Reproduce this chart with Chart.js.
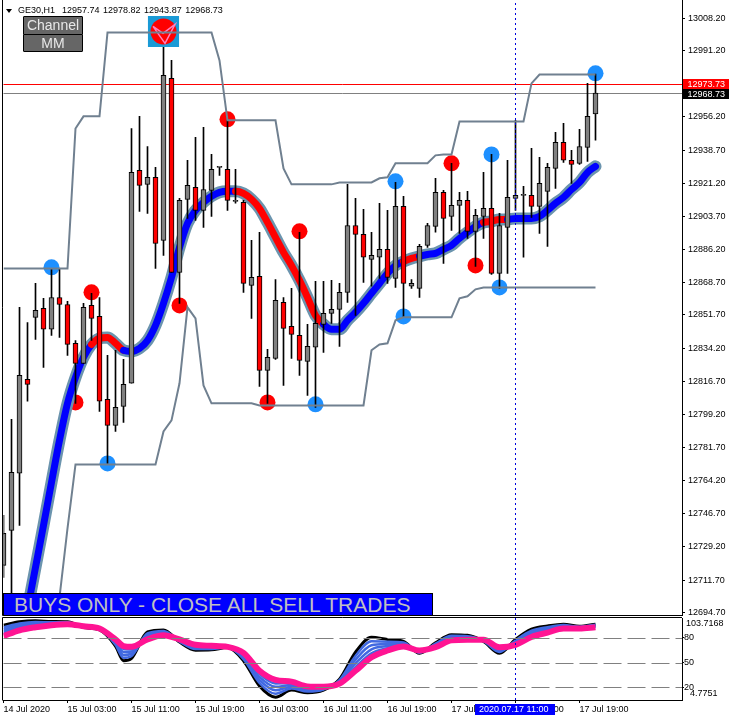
<!DOCTYPE html>
<html>
<head>
<meta charset="utf-8">
<title>GE30,H1</title>
<script src="https://cdn.jsdelivr.net/npm/chart.js@4/dist/chart.umd.js"></script>
<style>
  html, body { margin: 0; padding: 0; background: #fff; overflow: hidden; }
  body { width: 732px; height: 721px; position: relative; font-family: "Liberation Sans", sans-serif; }
  canvas { position: absolute; left: 0; }
  #main { top: 0; }
  #osc { top: 616px; }
  .box { position: absolute; box-sizing: border-box; }
  #arrow { left: 6px; top: 9px; width: 0; height: 0; border-left: 3.5px solid transparent; border-right: 3.5px solid transparent; border-top: 4px solid #000; }
  #title { left: 18px; top: 5px; font-size: 9px; line-height: 11px; white-space: pre; word-spacing: 1px; color: #000; }
  .btn { left: 23px; width: 60px; height: 18.5px; background: #666; border: 1px solid #000; color: #e8e8e8; font-size: 14px; line-height: 16px; text-align: center; border-radius: 1px; }
  #banner { left: 3px; top: 593px; width: 430px; height: 23px; background: #0000ff; border: 1px solid #000; color: #c0c0c0; font-size: 21px; line-height: 22px; padding-left: 10px; white-space: pre; }
</style>
</head>
<body>
<canvas id="main" width="732" height="616"></canvas>
<canvas id="osc" width="732" height="105"></canvas>
<div class="box" id="arrow"></div>
<div class="box" id="title">GE30,H1  12957.74 12978.82 12943.87 12968.73</div>
<div class="box btn" style="top:16px">Channel</div>
<div class="box btn" style="top:33.5px">MM</div>
<div class="box" id="banner">BUYS ONLY - CLOSE ALL SELL TRADES</div>

<script>
// candles, hourly, 14 Jul 19:00 onwards
const opens = [12719.5,12738.0,12768.1,12817.7,12850.4,12855.1,12844.1,12860.9,12857.2,12836.7,12826.1,12856.7,12850.9,12807.1,12793.4,12803.4,12815.6,12928.0,12920.6,12924.3,12891.0,12976.5,12874.1,12912.7,12919.0,12906.9,12917.4,12929.6,12928.5,12911.6,12911.1,12867.3,12872.0,12822.4,12828.7,12858.3,12845.6,12840.9,12827.2,12834.6,12846.7,12852.5,12854.6,12863.6,12898.9,12894.2,12881.0,12882.1,12886.3,12871.0,12909.0,12866.8,12865.7,12888.4,12898.4,12916.4,12903.7,12909.5,12912.1,12895.8,12903.7,12907.9,12873.6,12897.9,12913.2,12914.8,12914.8,12909.0,12916.9,12929.0,12942.8,12933.3,12931.7,12940.1,12957.74]
const highs = [12745.9,12796.6,12855.7,12847.7,12868.3,12860.4,12876.2,12876.2,12858.8,12838.2,12857.8,12863.1,12860.9,12830.3,12833.0,12828.2,12950.1,12956.5,12940.6,12929.6,13001.9,12986.0,12913.2,12933.3,12945.4,12950.7,12936.4,12929.6,12954.4,12928.5,12912.1,12891.0,12895.3,12833.5,12870.4,12860.9,12865.7,12895.3,12846.7,12869.4,12869.4,12869.9,12868.3,12920.6,12913.2,12907.4,12895.3,12910.6,12906.9,12921.6,12914.3,12870.4,12888.9,12900.0,12923.8,12917.4,12931.7,12916.4,12916.9,12907.4,12926.9,12936.4,12905.3,12933.3,12954.4,12919.5,12939.6,12934.8,12931.7,12948.0,12952.8,12938.5,12949.6,12973.9,12978.82]
const lows = [12713.2,12701.0,12740.6,12806.1,12838.8,12824.0,12840.9,12839.8,12830.3,12805.0,12826.1,12838.2,12800.8,12773.3,12790.2,12795.0,12815.6,12906.3,12905.3,12876.2,12883.1,12874.1,12857.8,12902.6,12901.6,12897.9,12903.7,12925.3,12906.9,12910.6,12863.6,12849.9,12814.0,12805.0,12828.2,12814.5,12828.7,12819.8,12809.2,12802.9,12831.9,12847.2,12835.1,12858.3,12851.4,12868.9,12866.8,12871.0,12868.3,12866.2,12850.4,12865.7,12860.9,12887.3,12895.3,12878.9,12896.3,12894.7,12892.1,12877.3,12892.1,12873.1,12865.7,12873.6,12906.9,12882.1,12903.2,12894.7,12887.9,12918.5,12932.2,12921.1,12931.1,12932.7,12943.87]
const closes = [12736.4,12768.6,12819.8,12815.0,12854.1,12844.1,12860.9,12857.2,12836.1,12826.1,12855.7,12849.9,12806.1,12793.4,12802.9,12815.0,12926.9,12920.1,12924.3,12889.4,12978.1,12874.1,12912.1,12920.1,12906.9,12917.9,12928.5,12929.6,12912.1,12911.6,12868.3,12871.5,12822.4,12829.3,12859.4,12844.6,12841.4,12827.7,12835.1,12847.2,12852.5,12854.6,12863.6,12898.9,12894.2,12882.1,12883.1,12886.3,12871.5,12909.0,12868.3,12868.3,12887.9,12898.9,12916.4,12902.6,12909.5,12912.1,12895.8,12904.2,12907.9,12873.6,12898.9,12913.7,12914.8,12914.8,12909.0,12921.1,12929.6,12942.8,12933.3,12931.1,12940.6,12956.5,12968.73]

// thick moving average
const maLine = [null,null,null,12696.3,12718.4,12740.6,12763.3,12785.5,12805.0,12818.7,12829.3,12836.1,12839.3,12839.8,12836.7,12833.0,12832.4,12834.0,12838.2,12846.2,12857.8,12871.5,12887.3,12900.0,12906.9,12911.1,12914.3,12916.4,12916.9,12916.9,12915.8,12912.7,12907.9,12900.5,12892.6,12884.7,12877.8,12869.9,12860.9,12851.4,12846.7,12844.1,12844.1,12848.8,12853.0,12857.8,12863.1,12868.3,12873.6,12877.8,12879.9,12881.5,12882.6,12883.6,12884.2,12886.3,12888.4,12892.1,12895.3,12898.4,12900.5,12901.1,12902.1,12902.1,12902.6,12902.6,12902.6,12903.7,12906.9,12910.6,12913.7,12917.9,12921.6,12926.9,12930.1]
const maRedRanges = [[11,15],[29,40],[50,52],[60,63]]

// channel lines
const channelUpper = [12876.2,12876.2,12876.2,12876.2,12876.2,12876.2,12876.2,12876.2,12876.2,12950.1,12956.5,12956.5,12956.5,13000.8,13000.8,13000.8,13000.8,13000.8,13000.8,13000.8,13000.8,13000.8,13000.8,13000.8,13000.8,13000.8,13000.8,12986.0,12954.4,12954.4,12954.4,12954.4,12954.4,12954.4,12954.4,12929.0,12920.6,12920.6,12920.6,12920.6,12920.6,12920.6,12921.6,12921.6,12921.6,12921.6,12921.6,12923.8,12924.3,12931.7,12931.7,12931.7,12931.7,12931.7,12935.9,12936.4,12936.4,12953.8,12953.8,12953.8,12953.8,12953.8,12953.8,12953.8,12953.8,12953.8,12973.9,12978.6,12978.6,12978.6,12978.6,12978.6,12978.6,12978.6,12978.6]
const channelLower = [null,null,null,null,null,null,null,12702.6,12739.0,12772.8,12772.8,12772.8,12772.8,12772.8,12772.8,12772.8,12772.8,12772.8,12772.8,12772.8,12790.2,12796.0,12815.6,12855.7,12849.9,12814.5,12805.0,12805.0,12805.0,12805.0,12805.0,12805.0,12803.9,12803.9,12803.9,12803.9,12803.9,12803.9,12803.9,12803.9,12803.9,12803.9,12803.9,12803.9,12803.9,12803.9,12833.0,12836.1,12836.7,12848.8,12850.4,12850.4,12850.4,12850.4,12850.4,12850.4,12850.4,12860.4,12861.5,12865.2,12866.2,12866.2,12866.2,12866.2,12866.2,12866.2,12866.2,12866.2,12866.2,12866.2,12866.2,12866.2,12866.2,12866.2,12866.2]

// signal dots
const redDotIdx = [9,11,22,28,33,37,56,59]
const redDotVal = [12805.5,12863.6,12856.7,12954.9,12805.5,12895.8,12931.7,12877.8]
const blueDotIdx = [6,13,39,49,50,61,62,74]
const blueDotVal = [12876.8,12773.3,12804.5,12922.2,12850.9,12936.4,12866.2,12979.2]

// logo on the high of the spike
const iconIdx = [20]
const iconVal = [13001.3]
const iconStarIdx = [18.69,20.19,21.44,19.94,18.69]
const iconStarVal = [13004.0,12995.0,13005.0,13000.3,13004.0]

// price axis
const priceTicks = [13008.2,12991.2,12973.7,12956.2,12938.7,12921.2,12903.7,12886.2,12868.7,12851.7,12834.2,12816.7,12799.2,12781.7,12764.2,12746.7,12729.2,12711.7,12694.7]
const priceMin = 12693.3
const priceMax = 13017.9
const askPrice = 12973.73
const bidPrice = 12968.73
const crossIdx = 64

// time axis
const timeTicks = [0,8,16,24,32,40,48,56,64,72]
const timeLabels = ['14 Jul 2020','15 Jul 03:00','15 Jul 11:00','15 Jul 19:00','16 Jul 03:00','16 Jul 11:00','16 Jul 19:00','17 Jul 03:00','17 Jul 11:00','17 Jul 19:00']
const crossLabel = '2020.07.17 11:00'
const slotMax = 84.8125

// oscillator ribbon
const oscIdx = [0,2,4,6,8,10,12,14,15,16,18,20,22,24,26,28,30,32,34,36,38,40,42,44,46,48,50,52,54,56,58,60,62,64,66,68,70,72,74]
const oscBlack = [95.1,99.1,100.4,99.5,99.1,92.2,89.3,69.8,52.2,55.1,86.9,89.3,74.7,64.9,65.3,68.1,52.2,21.6,8.2,16.7,13.5,16.7,29.8,62.4,80.4,77.9,75.5,61.2,73.8,83.6,82.8,75.5,61.2,77.9,90.2,94.2,96.3,93.8,96.3]
const oscBlueA = [92.4,97,98.8,98.6,98.5,92.5,89.6,71.4,55.7,57.9,85.1,88,75.3,66.2,66.3,68.3,54.1,25.3,12.4,18.7,15,17.5,28.7,57.9,75.6,75.2,74.3,61.9,72.7,82.2,81.7,75.9,62.7,76.6,88.3,92.6,95.2,93.2,95.6]
const oscBlueB = [89.8,95,97.3,97.7,98,92.8,90,73,59.2,60.6,83.3,86.7,76,67.5,67.3,68.4,56,29,16.5,20.8,16.6,18.3,27.7,53.4,70.8,72.5,73.1,62.5,71.7,80.8,80.7,76.3,64.1,75.3,86.4,91,94.2,92.7,94.8]
const oscBlueC = [87.2,93,95.7,96.9,97.4,93.2,90.3,74.7,62.8,63.4,81.5,85.4,76.6,68.8,68.2,68.6,57.8,32.6,20.7,22.8,18.1,19.2,26.6,49,65.9,69.9,71.8,63.2,70.6,79.5,79.6,76.7,65.6,74,84.6,89.3,93.1,92.1,94.1]
const oscBlueD = [84.6,91,94.2,96,96.9,93.5,90.7,76.3,66.3,66.1,79.7,84.1,77.3,70.1,69.2,68.7,59.7,36.3,24.8,24.9,19.7,20,25.6,44.5,61.1,67.2,70.6,63.8,69.6,78.1,78.6,77.1,67,72.7,82.7,87.7,92.1,91.6,93.3]
const oscPink = [82,88.9,92.6,95.1,96.3,93.8,91,77.9,69.8,68.9,77.9,82.8,77.9,71.4,70.2,68.9,61.6,40,29,26.9,21.2,20.8,24.5,40,56.3,64.5,69.4,64.5,68.5,76.7,77.5,77.5,68.5,71.4,80.8,86.1,91,91,92.6]
const oscLevels = [80,50,20]
const oscMin = 4.7751
const oscMax = 103.7168

const axisFont = { family: '"Liberation Sans", sans-serif', size: 9 }

const pts = (idx, vals) => idx.map((x, i) => ({ x: x, y: vals[i] }))
const candleIdx = opens.map((_, i) => i)
const isDown = i => closes[i] < opens[i]

const lineSet = (data, color, width, order, extra) => Object.assign({
    type: 'line', data: data, borderColor: color, borderWidth: width, order: order,
    pointRadius: 0, fill: false, tension: 0
}, extra || {})

const dotSet = (data, color, radius, order, style) => ({
    type: 'line', data: data, showLine: false, order: order,
    pointRadius: radius, pointStyle: style || 'circle',
    pointBackgroundColor: color, pointBorderWidth: 0
})

const inRedRange = i => maRedRanges.some(r => i >= r[0] && i < r[1])

// axes must not push the plot area around, first/last tick labels add margins otherwise
const fixAxis = (axis, size) => {
    if (axis.isHorizontal()) axis.height = size
    else axis.width = size
    axis.paddingLeft = axis.paddingRight = axis.paddingTop = axis.paddingBottom = 0
}

// horizontal level snapped to a whole pixel row so it stays crisp
const levelLine = (ctx, chart, value, color, dash) => {
    const { chartArea, scales } = chart
    const y = Math.round(scales.y.getPixelForValue(value)) + 0.5
    ctx.save()
    ctx.strokeStyle = color
    ctx.lineWidth = 1
    ctx.setLineDash(dash || [])
    ctx.beginPath()
    ctx.moveTo(chartArea.left, y)
    ctx.lineTo(chartArea.right, y)
    ctx.stroke()
    ctx.restore()
}

// price lines, frame + price tags for main chart
const mainExtras = {
    id: 'mainExtras',
    beforeDatasetsDraw(chart) {
        levelLine(chart.ctx, chart, askPrice, '#ff0000')
        levelLine(chart.ctx, chart, bidPrice, '#808080')
    },
    afterDraw(chart) {
        const { ctx, chartArea, scales } = chart
        ctx.save()
        ctx.strokeStyle = '#000'
        ctx.lineWidth = 1
        ctx.beginPath()
        ctx.moveTo(2.5, 0)
        ctx.lineTo(2.5, 615.5)
        ctx.lineTo(chartArea.right, 615.5)
        ctx.stroke()

        const tag = (value, bg, top) => {
            ctx.fillStyle = bg
            ctx.fillRect(683, top, 46, 10)
            ctx.fillStyle = '#fff'
            ctx.font = '9px "Liberation Sans", sans-serif'
            ctx.textBaseline = 'middle'
            ctx.fillText(value.toFixed(2), 687.5, top + 5.5)
        }
        tag(askPrice, '#ff0000', Math.round(scales.y.getPixelForValue(askPrice)) - 5)
        tag(bidPrice, '#000000', Math.round(scales.y.getPixelForValue(bidPrice)) - 4)
        ctx.restore()
    }
}

const mainChart = new Chart(document.getElementById('main').getContext('2d'), {
    data: {
        datasets: [
            dotSet(pts(redDotIdx, redDotVal), '#ff0000', 8, 60),
            dotSet(pts(blueDotIdx, blueDotVal), '#1e90ff', 8, 60),
            lineSet(pts(candleIdx, maLine), '#6b94ae', 12, 50, { borderCapStyle: 'round', borderJoinStyle: 'round', cubicInterpolationMode: 'monotone' }),
            lineSet(pts(candleIdx, maLine), '#0000ff', 7, 40, {
                borderCapStyle: 'round', borderJoinStyle: 'round', cubicInterpolationMode: 'monotone',
                segment: { borderColor: c => inRedRange(c.p0DataIndex) ? '#ff0000' : '#0000ff' }
            }),
            {
                type: 'bar', order: 30, grouped: false, barThickness: 1,
                data: candleIdx.map(i => ({ x: i, y: [lows[i], highs[i]] })),
                backgroundColor: '#000', borderWidth: 0
            },
            {
                type: 'bar', order: 20, grouped: false, barThickness: 5, minBarLength: 1,
                data: candleIdx.map(i => ({ x: i, y: [opens[i], closes[i]] })),
                backgroundColor: candleIdx.map(i => isDown(i) ? '#ff0000' : '#808080'),
                borderColor: '#000', borderWidth: 1, borderSkipped: false
            },
            dotSet(pts(iconIdx, iconVal), '#1a9ad6', 22, 17, 'rect'),
            dotSet(pts(iconIdx, iconVal), '#ff0000', 13, 16),
            lineSet(pts(iconStarIdx, iconStarVal), '#ff80c0', 1.5, 15),
            lineSet(pts(candleIdx, channelUpper), '#708090', 2, 10),
            lineSet(pts(candleIdx, channelLower), '#708090', 2, 10),
            lineSet(pts([crossIdx, crossIdx], [priceMin, priceMax]), '#0000dd', 1, 1, { borderDash: [2, 3] })
        ]
    },
    options: {
        responsive: false,
        animation: false,
        events: [],
        layout: { autoPadding: false, padding: { left: 3.5, top: 0, right: 0, bottom: 1 } },
        plugins: { legend: { display: false }, tooltip: { enabled: false } },
        scales: {
            x: { type: 'linear', min: 0, max: slotMax, display: false, offset: false },
            y: {
                type: 'linear', position: 'right', min: priceMin, max: priceMax,
                afterBuildTicks: axis => { axis.ticks = priceTicks.map(v => ({ value: v })) },
                afterFit: axis => fixAxis(axis, 50),
                grid: { drawOnChartArea: false, color: '#000', tickLength: 3 },
                border: { color: '#000' },
                ticks: { autoSkip: false, color: '#000', font: axisFont, padding: 3, callback: v => v.toFixed(2) }
            }
        }
    },
    plugins: [mainExtras]
})

// levels, extreme labels, frame and crosshair date for the lower panel
const oscExtras = {
    id: 'oscExtras',
    afterDatasetsDraw(chart) {
        oscLevels.forEach(v => levelLine(chart.ctx, chart, v, '#808080', [18, 6]))
    },
    afterDraw(chart) {
        const { ctx, scales } = chart
        ctx.save()
        ctx.strokeStyle = '#000'
        ctx.lineWidth = 1
        ctx.beginPath()
        ctx.moveTo(2.5, 84.5)
        ctx.lineTo(2.5, 1.5)
        ctx.lineTo(682, 1.5)
        ctx.stroke()

        ctx.fillStyle = '#000'
        ctx.font = '9px "Liberation Sans", sans-serif'
        ctx.textBaseline = 'middle'
        ctx.fillText(oscMax.toFixed(4), 686, 8)
        ctx.fillText(oscMin.toFixed(4), 690, 77.5)

        const px = scales.x.getPixelForValue(crossIdx)
        ctx.fillStyle = '#0000ff'
        ctx.fillRect(px - 40.5, 88, 80, 11)
        ctx.fillStyle = '#fff'
        ctx.fillText(crossLabel, px - 36.5, 93.5)
        ctx.restore()
    }
}

const ribbon = { cubicInterpolationMode: 'monotone' }

const oscChart = new Chart(document.getElementById('osc').getContext('2d'), {
    data: {
        datasets: [
            lineSet(pts(oscIdx, oscBlack), '#000000', 3, 30, ribbon),
            lineSet(pts(oscIdx, oscBlueA), '#4169e1', 2.5, 25, ribbon),
            lineSet(pts(oscIdx, oscBlueB), '#4169e1', 2.5, 24, ribbon),
            lineSet(pts(oscIdx, oscBlueC), '#4169e1', 2.5, 23, ribbon),
            lineSet(pts(oscIdx, oscBlueD), '#4169e1', 2.5, 22, ribbon),
            lineSet(pts(oscIdx, oscPink), '#ff1493', 6, 20, ribbon),
            lineSet(pts([crossIdx, crossIdx], [oscMin, oscMax]), '#0000dd', 1, 1, { borderDash: [2, 3] })
        ]
    },
    options: {
        responsive: false,
        animation: false,
        events: [],
        layout: { autoPadding: false, padding: { left: 3.5, top: 2, right: 0, bottom: 0 } },
        plugins: { legend: { display: false }, tooltip: { enabled: false } },
        scales: {
            x: {
                type: 'linear', min: 0, max: slotMax, offset: false,
                afterBuildTicks: axis => { axis.ticks = timeTicks.map(v => ({ value: v })) },
                afterFit: axis => fixAxis(axis, 21),
                grid: { drawOnChartArea: false, color: '#000', tickLength: 3 },
                border: { color: '#000' },
                ticks: {
                    autoSkip: false, maxRotation: 0, align: 'start', color: '#000', font: axisFont, padding: 1,
                    callback: v => timeLabels[timeTicks.indexOf(v)]
                }
            },
            y: {
                type: 'linear', position: 'right', min: oscMin, max: oscMax,
                afterBuildTicks: axis => { axis.ticks = oscLevels.map(v => ({ value: v })) },
                afterFit: axis => fixAxis(axis, 50),
                grid: { drawOnChartArea: false, color: '#000', tickLength: 2 },
                border: { color: '#000' },
                ticks: { autoSkip: false, color: '#000', font: axisFont, padding: 0, callback: v => String(v) }
            }
        }
    },
    plugins: [oscExtras]
})
</script>
</body>
</html>
